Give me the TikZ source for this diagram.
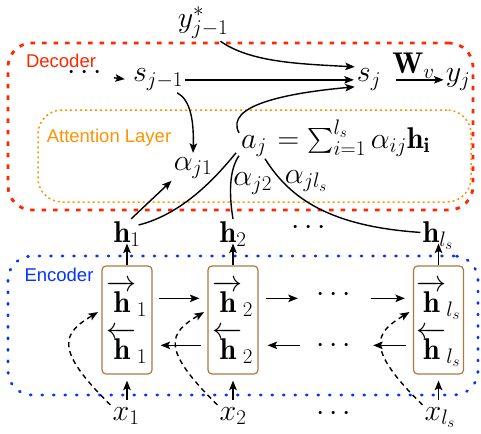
\RequirePackage{fix-cm}
\documentclass[tikz,border=0pt]{standalone}
\usepackage{fontspec}
\usepackage{amsmath}
\usepackage{tikz}
\usetikzlibrary{arrows.meta}
\newfontfamily\labelfont{Liberation Sans}
\definecolor{decred}{HTML}{FF2600}
\definecolor{attorange}{HTML}{FF9300}
\definecolor{encblue}{HTML}{0433FF}
\definecolor{cellbrown}{HTML}{AA7942}

\begin{document}
\begin{tikzpicture}[x=1pt, y=1pt,
  every node/.style={font=\fontsize{30}{36}\selectfont, inner sep=2pt},
  region/.style={rounded corners=24pt, inner sep=0pt},
  tag/.style={font=\labelfont\fontsize{18.5}{22}\selectfont, inner sep=0pt},
  cell/.style={draw=cellbrown, line width=1.2pt, rounded corners=4pt,
    minimum width=50pt, minimum height=108pt, inner sep=0pt},
  arrow/.style={-{Stealth[length=9.5pt,width=7.5pt,inset=2pt]}, line width=1.4pt},
  link/.style={line width=1.4pt},
  feed/.style={arrow, dash pattern=on 5pt off 4pt}
]
\useasboundingbox (0,0) rectangle (481,-433);

% Frames
\node[region, draw=decred, line width=2.8pt, dash pattern=on 4.5pt off 7pt,
  minimum width=465pt, minimum height=167pt] (dec) at (240.5,-126.5) {};
\node[region, draw=attorange, line width=1.5pt, dash pattern=on 2pt off 3pt,
  minimum width=433pt, minimum height=92pt] (att) at (254.5,-156) {};
\node[region, draw=encblue, line width=2.8pt, line cap=round, dash pattern=on 1pt off 10.5pt,
  minimum width=470pt, minimum height=139pt] (enc) at (243,-325.5) {};
\node[tag, text=decred] (declabel) at (61,-61) {Decoder};
\node[tag, text=attorange] (attlabel) at (109,-138) {Attention Layer};
\node[tag, text=encblue] (enclabel) at (59,-275) {Encoder};

% Decoder
\node (ystar) at (203,-23) {$y^*_{j-1}$};
\node[anchor=mid, inner sep=0pt] (ldots) at (87,-77) {$\cdots$};
\node[anchor=base] (sprev) at (158,-82) {$s_{j-1}$};
\node[anchor=base] (sj) at (369,-82) {$s_j$};
\node[anchor=base] (yj) at (458,-82) {$y_j$};

% Attention
\node[anchor=base] (aj) at (254,-148) {$a_j$};
\node[anchor=base west, inner sep=0pt] (ajsum) at (aj.base east)
  {$\mskip\thickmuskip=\sum_{i=1}^{l_s}\alpha_{ij}\mathbf{h}_{\mathbf{i}}$};
\node[anchor=base] (alpha1) at (193,-170) {$\alpha_{j1}$};

% Annotations
\node[anchor=base] (h1) at (127,-242) {$\mathbf{h}_1$};
\node[anchor=base] (h2) at (233,-242) {$\mathbf{h}_2$};
\node[anchor=mid] (hdots) at (311,-232) {$\cdots$};
\node[anchor=base] (h3) at (438,-242) {$\mathbf{h}_{l_s}$};

% Encoder cells
\node[cell] (b1) at (127,-320) {};
\node[cell] (b2) at (233,-320) {};
\node[cell] (b3) at (438.5,-320) {};
\node[anchor=base] (f1) at (127,-312) {$\overrightarrow{\mathbf{h}}_1$};
\node[anchor=base] (r1) at (127,-359) {$\overleftarrow{\mathbf{h}}_1$};
\node[anchor=base] (f2) at (233,-312) {$\overrightarrow{\mathbf{h}}_2$};
\node[anchor=base] (r2) at (233,-359) {$\overleftarrow{\mathbf{h}}_2$};
\node[anchor=base] (f3) at (438.5,-312) {$\overrightarrow{\mathbf{h}}_{l_s}$};
\node[anchor=base] (r3) at (438.5,-359) {$\overleftarrow{\mathbf{h}}_{l_s}$};
\node[anchor=mid] (fdots) at (336,-299) {$\cdots$};
\node[anchor=mid] (rdots) at (336,-350) {$\cdots$};

% Inputs
\node[anchor=base] (x1) at (126,-420) {$x_1$};
\node[anchor=base] (x2) at (233,-420) {$x_2$};
\node[anchor=base] (xdots) at (336,-420) {$\cdots$};
\node[anchor=base] (x3) at (440,-420) {$x_{l_s}$};

% Decoder arrows
\draw[arrow, shorten <=7pt, shorten >=6pt] (ldots.mid east) -- (sprev.mid west);
\draw[arrow, shorten >=1pt] (sprev.mid east) -- (sj.mid west);
\draw[arrow, shorten <=13pt] (sj.mid east) -- node[above, inner sep=1pt] (wv) {$\mathbf{W}_v$} (yj.mid west);
\draw[arrow] ([xshift=-10pt]ystar.south east) .. controls +(30,-21) and +(-56,3) .. (sj.north west);
\draw[arrow] (aj.north west) .. controls +(-15,28) and +(-66,-6) .. ([yshift=-7pt]sj.west);
\draw[arrow, shorten >=2pt] ([xshift=-8pt]sprev.south east) .. controls +(13,-7) and +(1,35) .. (alpha1.north);
\draw[arrow] ([xshift=4pt]h1.north) -- (alpha1.south west);

% Attention weights
\draw[link] ([xshift=-3pt,yshift=6pt]aj.south west) .. controls +(-25,-31) and +(40,10) .. ([xshift=-4pt,yshift=-6pt]h1.north east);
\draw[link] ([yshift=3pt]aj.south west) .. controls +(-10,-14) and +(-4,24) .. (h2.north)
  node[pos=0.5, anchor=west] (alpha2) {$\alpha_{j2}$};
\draw[link] ([xshift=-4pt]aj.south east) .. controls +(25,-40) and +(-90,6) .. ([yshift=3pt]h3.west)
  node[pos=0.2, anchor=west] (alpha3) {$\alpha_{jl_s}$};

% Encoder arrows
\draw[arrow, shorten >=1.5pt] (b1.north) -- (h1.base);
\draw[arrow, shorten >=1.5pt] (b2.north) -- (h2.base);
\draw[arrow, shorten >=1.5pt] (b3.north) -- (b3.north |- h3.base);
\draw[arrow, shorten <=5pt, shorten >=6pt] (b1.south |- x1.north) -- (b1.south);
\draw[arrow, shorten <=5pt, shorten >=6pt] (b2.south |- x2.north) -- (b2.south);
\draw[arrow, shorten <=5pt, shorten >=6pt] (b3.south |- x3.north) -- (b3.south);

\draw[arrow, shorten <=6pt, shorten >=8pt] (b1.east |- f1) -- (b2.west |- f2);
\draw[arrow, shorten <=7pt, shorten >=16pt] (b2.east |- f2) -- (fdots.west |- f2);
\draw[arrow, shorten <=13pt, shorten >=8pt] (fdots.east |- f2) -- (b3.west |- f2);
\draw[arrow, shorten <=6pt, shorten >=8pt] (b2.west |- r2) -- (b1.east |- r1);
\draw[arrow, shorten <=14pt, shorten >=9pt] (rdots.west |- r2) -- (b2.east |- r2);
\draw[arrow, shorten <=7pt, shorten >=15pt] (b3.west |- r2) -- (rdots.east |- r2);

\draw[feed, shorten >=4pt] (x1.north west) .. controls +(-58,57) and +(-38,-23) .. ([yshift=10pt]b1.west);
\draw[feed, shorten >=4pt] (x2.north west) .. controls +(-58,57) and +(-38,-23) .. ([yshift=10pt]b2.west);
\draw[feed, shorten >=4pt] (x3.north west) .. controls +(-58,57) and +(-38,-23) .. ([yshift=10pt]b3.west);

\end{tikzpicture}
\end{document}
